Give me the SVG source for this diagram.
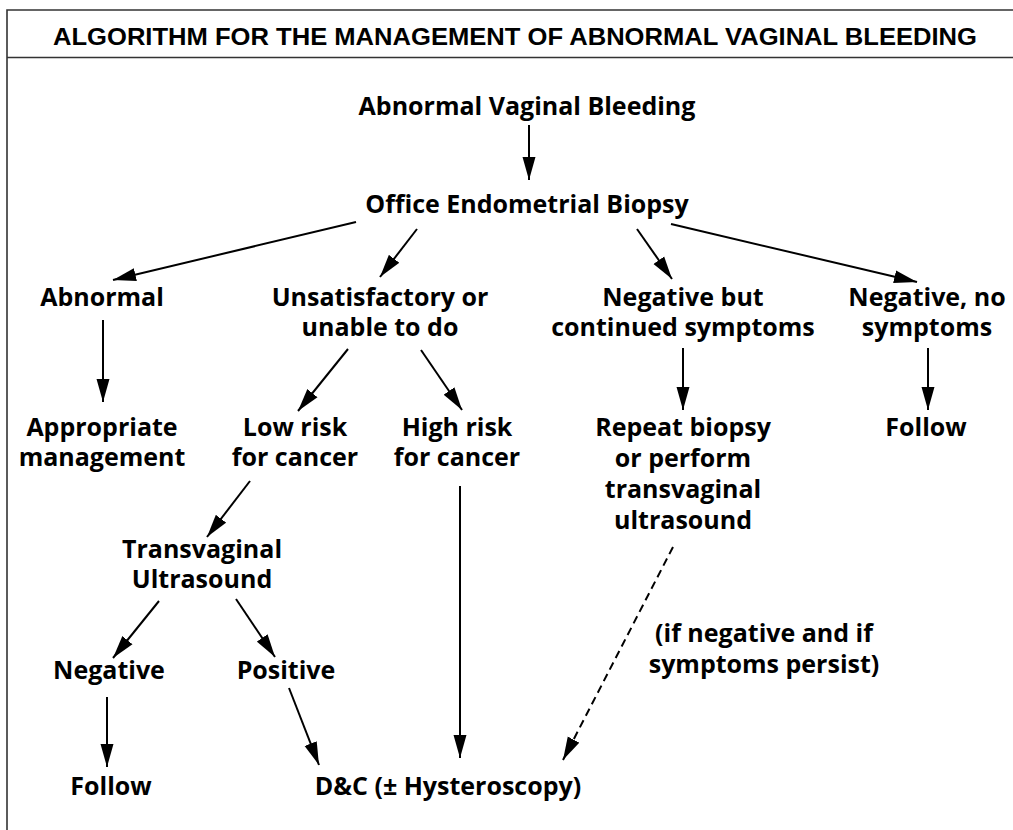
<svg xmlns="http://www.w3.org/2000/svg" width="1013" height="830" viewBox="0 0 1013 830">
<style>
.t{font-family:"Open Sans","Liberation Sans",sans-serif;font-weight:bold;font-size:25px;fill:#000;text-anchor:middle}
.title{font-family:"Liberation Sans",Arial,sans-serif;font-weight:bold;font-size:24px;fill:#000;text-anchor:middle}
.c{stroke:#000;stroke-width:2;fill:none;marker-end:url(#ah)}
.d{stroke-dasharray:8,5}
.f{stroke:#333;stroke-width:1.6;fill:none}
</style>
<defs>
<marker id="ah" markerUnits="userSpaceOnUse" markerWidth="24" markerHeight="14" refX="23" refY="7" orient="auto">
<path d="M0,0.5 L23,7 L0,13.5 z" fill="#000"/>
</marker>
</defs>
<rect width="1013" height="830" fill="#fff"/>
<g id="frame">
<path class="f" d="M7,830 V10 H1013 M7,57.5 H1013"/>
<text class="title" x="515" y="45" textLength="924" lengthAdjust="spacingAndGlyphs">ALGORITHM FOR THE MANAGEMENT OF ABNORMAL VAGINAL BLEEDING</text>
</g>
<g id="connectors">
<line class="c" x1="529" y1="125" x2="529" y2="180"/>
<line class="c" x1="356" y1="222" x2="113" y2="280"/>
<line class="c" x1="417" y1="229" x2="380" y2="277"/>
<line class="c" x1="637" y1="229" x2="672" y2="279"/>
<line class="c" x1="671" y1="224" x2="917" y2="282"/>
<line class="c" x1="103" y1="320" x2="103" y2="402"/>
<line class="c" x1="348" y1="349" x2="298" y2="411"/>
<line class="c" x1="421" y1="350" x2="462" y2="410"/>
<line class="c" x1="683" y1="348" x2="683" y2="410"/>
<line class="c" x1="928" y1="348" x2="928" y2="410"/>
<line class="c" x1="250" y1="481" x2="207" y2="537"/>
<line class="c" x1="159" y1="601" x2="113" y2="658"/>
<line class="c" x1="236" y1="599" x2="275" y2="657"/>
<line class="c" x1="107" y1="697" x2="107" y2="767"/>
<line class="c" x1="289" y1="688" x2="319" y2="765"/>
<line class="c" x1="460" y1="486" x2="460" y2="758"/>
<line class="c d" x1="673" y1="547" x2="563" y2="760"/>
</g>
<g id="n-start"><text class="t" x="527" y="115">Abnormal Vaginal Bleeding</text></g>
<g id="n-biopsy"><text class="t" x="527" y="213">Office Endometrial Biopsy</text></g>
<g id="n-abnormal"><text class="t" x="102" y="306">Abnormal</text></g>
<g id="n-unsat"><text class="t" x="380" y="306">Unsatisfactory or</text><text class="t" x="380" y="336">unable to do</text></g>
<g id="n-negcont"><text class="t" x="683" y="306">Negative but</text><text class="t" x="683" y="336">continued symptoms</text></g>
<g id="n-negno"><text class="t" x="927" y="306">Negative, no</text><text class="t" x="927" y="336">symptoms</text></g>
<g id="n-approp"><text class="t" x="102" y="436">Appropriate</text><text class="t" x="102" y="466">management</text></g>
<g id="n-low"><text class="t" x="295" y="436">Low risk</text><text class="t" x="295" y="466">for cancer</text></g>
<g id="n-high"><text class="t" x="457" y="436">High risk</text><text class="t" x="457" y="466">for cancer</text></g>
<g id="n-repeat"><text class="t" x="683" y="436">Repeat biopsy</text><text class="t" x="683" y="467">or perform</text><text class="t" x="683" y="498">transvaginal</text><text class="t" x="683" y="529">ultrasound</text></g>
<g id="n-follow1"><text class="t" x="926" y="436">Follow</text></g>
<g id="n-tvus"><text class="t" x="202" y="558">Transvaginal</text><text class="t" x="202" y="588">Ultrasound</text></g>
<g id="n-neg"><text class="t" x="109" y="679">Negative</text></g>
<g id="n-pos"><text class="t" x="286" y="679">Positive</text></g>
<g id="n-follow2"><text class="t" x="111" y="795">Follow</text></g>
<g id="n-dc"><text class="t" x="448" y="795">D&amp;C (± Hysteroscopy)</text></g>
<g id="n-note"><text class="t" x="764" y="642">(if negative and if</text><text class="t" x="764" y="673">symptoms persist)</text></g>
</svg>
